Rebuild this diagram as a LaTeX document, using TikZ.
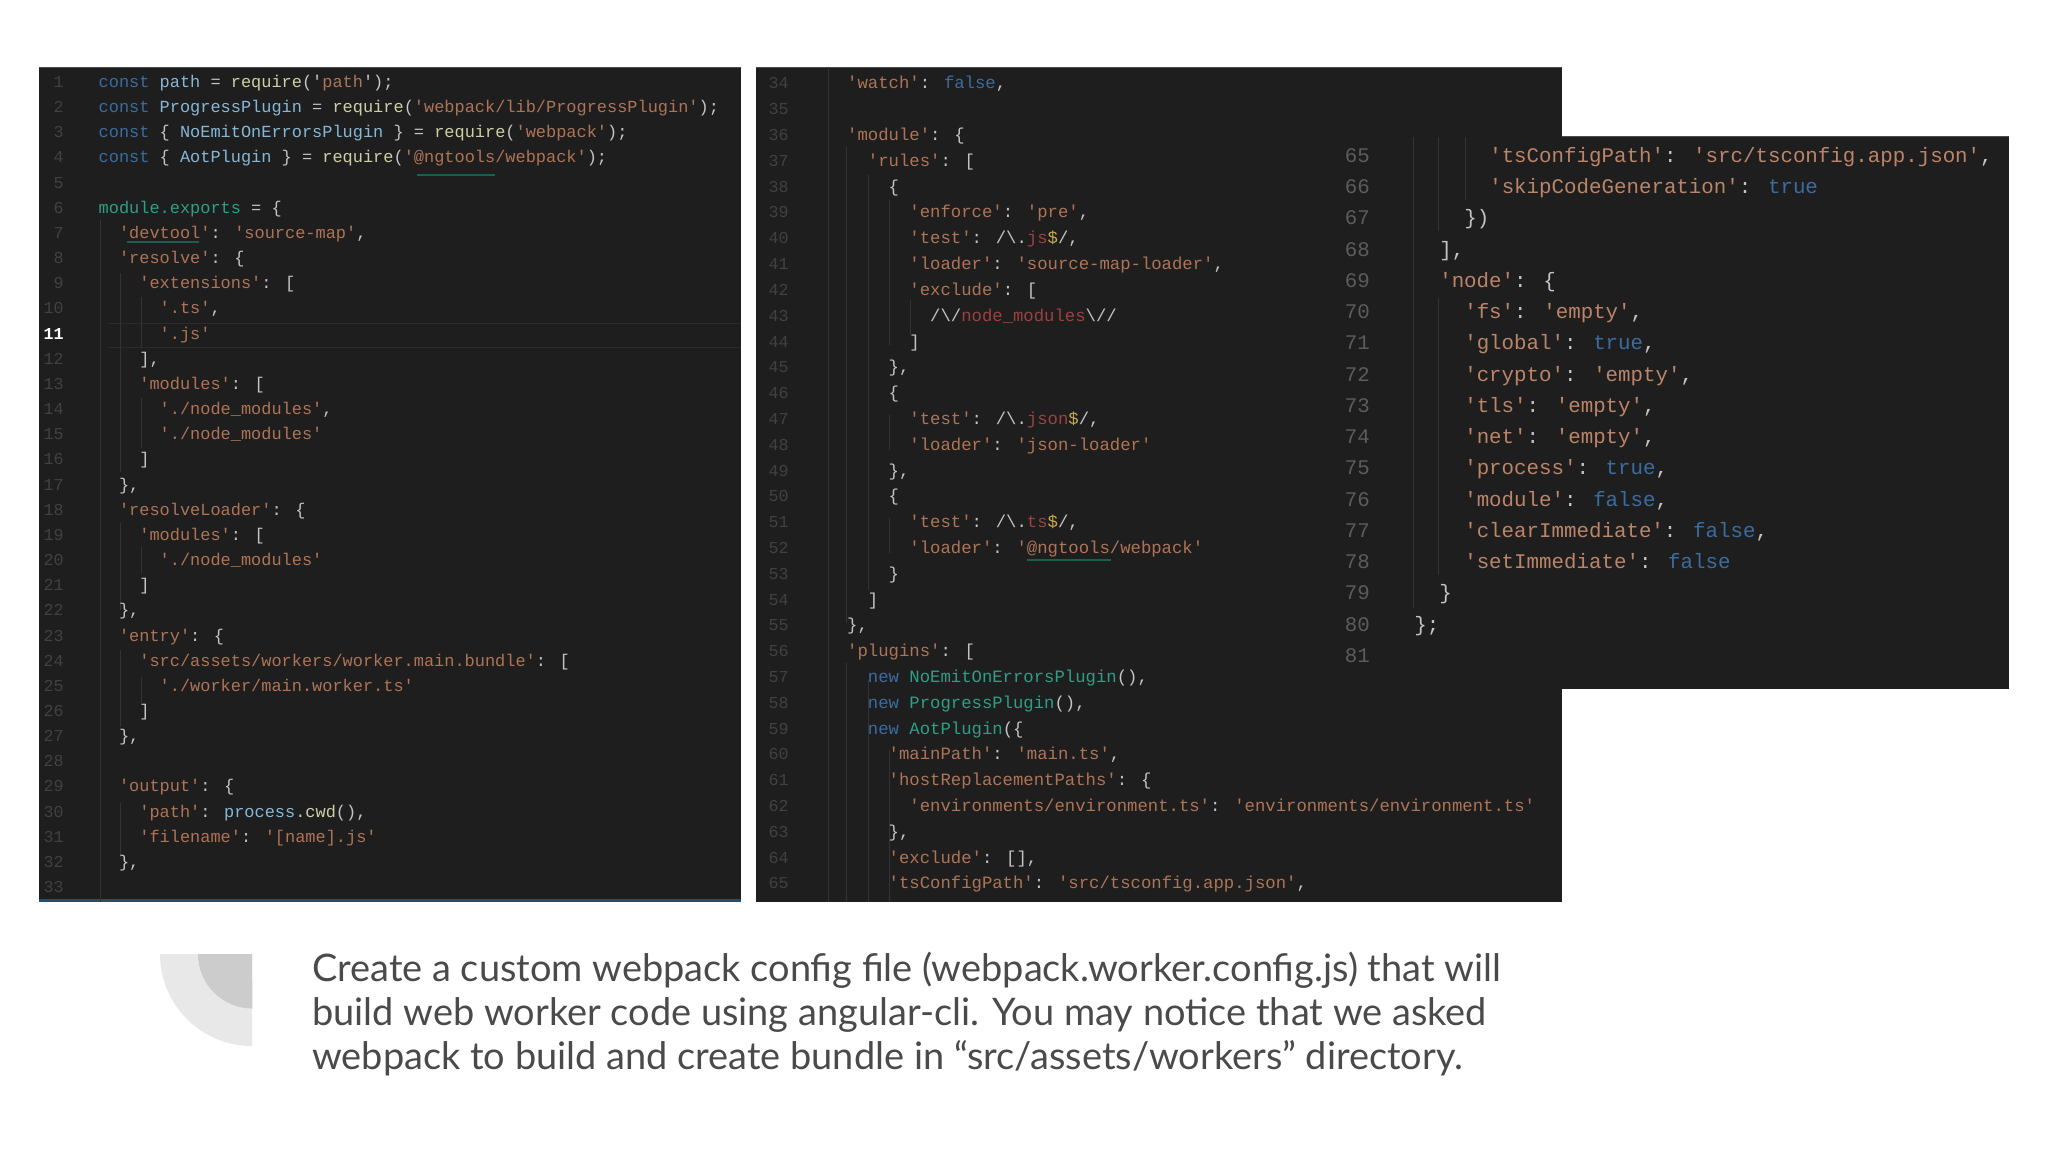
\documentclass[tikz,border=0pt]{standalone}
\usepackage{fontspec}
\setmainfont{Lato}
\newfontfamily\codefont{Liberation Mono}
\usepackage{xcolor}
\definecolor{panelbg}{HTML}{1E1E1F}
\definecolor{codetxt}{HTML}{C4C4C4}
\definecolor{keyblue}{HTML}{3B6CA0}
\definecolor{strbrown}{HTML}{AE7455}
\definecolor{fnyellow}{HTML}{CFCFA4}
\definecolor{varblue}{HTML}{86B8D6}
\definecolor{clsgreen}{HTML}{2F9E84}
\definecolor{rxred}{HTML}{9E4040}
\definecolor{rxgold}{HTML}{C9A94E}
\definecolor{numgrey}{HTML}{3F4142}
\definecolor{numgreyC}{HTML}{5A5C5E}
\definecolor{guidegrey}{HTML}{323334}
\definecolor{linegrey}{HTML}{2A2A2B}
\definecolor{stripeblue}{HTML}{24506F}
\definecolor{capgrey}{HTML}{4A4A4A}

\newcommand{\ckw}[1]{\textcolor{keyblue}{#1}}
\newcommand{\cstr}[1]{\textcolor{strbrown}{#1}}
\newcommand{\cfn}[1]{\textcolor{fnyellow}{#1}}
\newcommand{\cvar}[1]{\textcolor{varblue}{#1}}
\newcommand{\ccls}[1]{\textcolor{clsgreen}{#1}}
\newcommand{\crx}[1]{\textcolor{rxred}{#1}}
\newcommand{\cgold}[1]{\textcolor{rxgold}{#1}}
\newcommand{\bsl}{\textbackslash}

% line number, indent in characters, text
\newcommand{\codeA}[3]{\node[codeAstyle] (a#1) at ({98.4+10.17*#2},{87.5+25.16*(#1-1)}) {#3};}
\newcommand{\codeB}[3]{\node[codeBstyle] (b#1) at ({826.2+10.37*#2},{89+25.8*(#1-34)}) {#3};}
\newcommand{\codeC}[3]{\node[codeCstyle] (c#1) at ({1414+12.5*#2},{162.5+31.24*(#1-65)}) {#3};}

\tikzset{
	codeAstyle/.style={anchor=base west,inner sep=0pt,text=codetxt,font=\codefont\fontsize{12.71pt}{15pt}\selectfont},
	codeBstyle/.style={anchor=base west,inner sep=0pt,text=codetxt,font=\codefont\fontsize{12.96pt}{15pt}\selectfont},
	codeCstyle/.style={anchor=base west,inner sep=0pt,text=codetxt,font=\codefont\fontsize{15.6pt}{18pt}\selectfont},
	numstyle/.style={anchor=base east,inner sep=0pt,text=numgrey,font=\codefont\fontsize{12.5pt}{15pt}\selectfont},
	numCstyle/.style={anchor=base east,inner sep=0pt,text=numgreyC,font=\codefont\fontsize{15.6pt}{18pt}\selectfont},
	caption/.style={anchor=base west,inner sep=0pt,text=capgrey,font=\fontsize{28.45pt}{33pt}\selectfont},
	guide/.style={draw=guidegrey,line width=0.6pt},
	squiggle/.style={draw=clsgreen!60!black,line width=1pt}
}

\begin{document}
\begin{tikzpicture}[x=0.75pt,y=-0.75pt]
	\useasboundingbox (0,0) rectangle (2048,1152);
	\fill[white] (0,0) rectangle (2048,1152);

	% code panels
	\fill[panelbg] (39,67) rectangle (741,902);
	\fill[panelbg] (756,67) rectangle (1562,902);
	\fill[panelbg] (1340,136.5) rectangle (2009,688.5);
	\fill[black!70] (1562,136) rectangle (2009,137);
	\fill[black!70] (39,67) rectangle (741,67.8);
	\fill[black!70] (756,67) rectangle (1562,67.8);
	\fill[stripeblue] (39,899) rectangle (741,902);

	% current line on the left
	\draw[linegrey] (108,323) -- (741,323);
	\draw[linegrey] (108,347) -- (741,347);

	% indent guides
	\foreach \ya/\yb in {220/902} \draw[guide] (100,\ya) -- (100,\yb);
	\foreach \ya/\yb in {273/472, 523/610, 650/727, 803/857} \draw[guide] (120,\ya) -- (120,\yb);
	\foreach \ya/\yb in {297/348, 398/448, 547/573, 677/703} \draw[guide] (141,\ya) -- (141,\yb);
	\draw[guide] (828,67) -- (828,902);
	\foreach \ya/\yb in {147/623, 663/902} \draw[guide] (846,\ya) -- (846,\yb);
	\foreach \ya/\yb in {175/590, 680/902} \draw[guide] (868,\ya) -- (868,\yb);
	\foreach \ya/\yb in {200/345, 415/450, 518/553, 750/902} \draw[guide] (889,\ya) -- (889,\yb);
	\draw[guide] (910,300) -- (910,335);
	\draw[guide] (1413,137) -- (1413,608);
	\foreach \ya/\yb in {137/231, 298/575} \draw[guide] (1438,\ya) -- (1438,\yb);
	\draw[guide] (1465,137) -- (1465,200);

	% line numbers
	\foreach \n in {1,...,33} {
		\ifnum\n=11\else
		\node[numstyle] (na\n) at (64,{87.5+25.16*(\n-1)}) {\n};
		\fi
	}
	\node[numstyle,text=white,font=\codefont\bfseries\fontsize{12.5pt}{15pt}\selectfont] (na11) at (64,{87.5+25.16*10}) {11};
	\foreach \n in {34,...,65} \node[numstyle] (nb\n) at (789,{89+25.8*(\n-34)}) {\n};
	\foreach \n in {65,...,81} \node[numCstyle] (nc\n) at (1370,{162.5+31.24*(\n-65)}) {\n};

	% left panel
	\codeA{1}{0}{\ckw{const} \cvar{path} = \cfn{require}('\cstr{path}');}
	\codeA{2}{0}{\ckw{const} \cvar{ProgressPlugin} = \cfn{require}(\cstr{'webpack/lib/ProgressPlugin'});}
	\codeA{3}{0}{\ckw{const} \{ \cvar{NoEmitOnErrorsPlugin} \} = \cfn{require}(\cstr{'webpack'});}
	\codeA{4}{0}{\ckw{const} \{ \cvar{AotPlugin} \} = \cfn{require}(\cstr{'@ngtools/webpack'});}
	\codeA{6}{0}{\ccls{module.exports} = \{}
	\codeA{7}{2}{\cstr{'devtool'}: \cstr{'source-map'},}
	\codeA{8}{2}{\cstr{'resolve'}: \{}
	\codeA{9}{4}{\cstr{'extensions'}: [}
	\codeA{10}{6}{\cstr{'.ts'},}
	\codeA{11}{6}{\cstr{'.js'}}
	\codeA{12}{4}{],}
	\codeA{13}{4}{\cstr{'modules'}: [}
	\codeA{14}{6}{\cstr{'./node\_modules'},}
	\codeA{15}{6}{\cstr{'./node\_modules'}}
	\codeA{16}{4}{]}
	\codeA{17}{2}{\},}
	\codeA{18}{2}{\cstr{'resolveLoader'}: \{}
	\codeA{19}{4}{\cstr{'modules'}: [}
	\codeA{20}{6}{\cstr{'./node\_modules'}}
	\codeA{21}{4}{]}
	\codeA{22}{2}{\},}
	\codeA{23}{2}{\cstr{'entry'}: \{}
	\codeA{24}{4}{\cstr{'src/assets/workers/worker.main.bundle'}: [}
	\codeA{25}{6}{\cstr{'./worker/main.worker.ts'}}
	\codeA{26}{4}{]}
	\codeA{27}{2}{\},}
	\codeA{29}{2}{\cstr{'output'}: \{}
	\codeA{30}{4}{\cstr{'path'}: \cvar{process}.\cfn{cwd}(),}
	\codeA{31}{4}{\cstr{'filename'}: \cstr{'[name].js'}}
	\codeA{32}{2}{\},}

	% middle panel
	\codeB{34}{2}{\cstr{'watch'}: \ckw{false},}
	\codeB{36}{2}{\cstr{'module'}: \{}
	\codeB{37}{4}{\cstr{'rules'}: [}
	\codeB{38}{6}{\{}
	\codeB{39}{8}{\cstr{'enforce'}: \cstr{'pre'},}
	\codeB{40}{8}{\cstr{'test'}: /\bsl.\crx{js}\cgold{\$}/,}
	\codeB{41}{8}{\cstr{'loader'}: \cstr{'source-map-loader'},}
	\codeB{42}{8}{\cstr{'exclude'}: [}
	\codeB{43}{10}{/\bsl/\crx{node\_modules}\bsl//}
	\codeB{44}{8}{]}
	\codeB{45}{6}{\},}
	\codeB{46}{6}{\{}
	\codeB{47}{8}{\cstr{'test'}: /\bsl.\crx{json}\cgold{\$}/,}
	\codeB{48}{8}{\cstr{'loader'}: \cstr{'json-loader'}}
	\codeB{49}{6}{\},}
	\codeB{50}{6}{\{}
	\codeB{51}{8}{\cstr{'test'}: /\bsl.\crx{ts}\cgold{\$}/,}
	\codeB{52}{8}{\cstr{'loader'}: \cstr{'@ngtools/webpack'}}
	\codeB{53}{6}{\}}
	\codeB{54}{4}{]}
	\codeB{55}{2}{\},}
	\codeB{56}{2}{\cstr{'plugins'}: [}
	\codeB{57}{4}{\ckw{new} \ccls{NoEmitOnErrorsPlugin}(),}
	\codeB{58}{4}{\ckw{new} \ccls{ProgressPlugin}(),}
	\codeB{59}{4}{\ckw{new} \ccls{AotPlugin}(\{}
	\codeB{60}{6}{\cstr{'mainPath'}: \cstr{'main.ts'},}
	\codeB{61}{6}{\cstr{'hostReplacementPaths'}: \{}
	\codeB{62}{8}{\cstr{'environments/environment.ts'}: \cstr{'environments/environment.ts'}}
	\codeB{63}{6}{\},}
	\codeB{64}{6}{\cstr{'exclude'}: [],}
	\codeB{65}{6}{\cstr{'tsConfigPath'}: \cstr{'src/tsconfig.app.json'},}

	% right panel
	\begin{scope}
		\definecolor{strbrown}{HTML}{BC8468}
		\codeC{65}{6}{\cstr{'tsConfigPath'}: \cstr{'src/tsconfig.app.json'},}
		\codeC{66}{6}{\cstr{'skipCodeGeneration'}: \ckw{true}}
		\codeC{67}{4}{\})}
		\codeC{68}{2}{],}
		\codeC{69}{2}{\cstr{'node'}: \{}
		\codeC{70}{4}{\cstr{'fs'}: \cstr{'empty'},}
		\codeC{71}{4}{\cstr{'global'}: \ckw{true},}
		\codeC{72}{4}{\cstr{'crypto'}: \cstr{'empty'},}
		\codeC{73}{4}{\cstr{'tls'}: \cstr{'empty'},}
		\codeC{74}{4}{\cstr{'net'}: \cstr{'empty'},}
		\codeC{75}{4}{\cstr{'process'}: \ckw{true},}
		\codeC{76}{4}{\cstr{'module'}: \ckw{false},}
		\codeC{77}{4}{\cstr{'clearImmediate'}: \ckw{false},}
		\codeC{78}{4}{\cstr{'setImmediate'}: \ckw{false}}
		\codeC{79}{2}{\}}
		\codeC{80}{0}{\};}
	\end{scope}

	% squiggles
	\draw[squiggle] (127,242) -- (199,242);
	\draw[squiggle] (417,175) -- (495,175);
	\draw[squiggle] (1027,560) -- (1111,560);

	% quarter mark
	\fill[black!9] (160,954) arc[start angle=180,end angle=90,radius=92] -- (252,954) -- cycle;
	\fill[black!20] (198,954) arc[start angle=180,end angle=90,radius=54.5] -- (252,954) -- cycle;

	% caption
	\node[caption] (cap1) at (312,981) {Create a custom webpack config file (webpack.worker.config.js) that will};
	\node[caption] (cap2) at (312,1025) {build web worker code using angular-cli. You may notice that we asked};
	\node[caption] (cap3) at (312,1069) {webpack to build and create bundle in “src/assets/workers” directory.};
\end{tikzpicture}
\end{document}
